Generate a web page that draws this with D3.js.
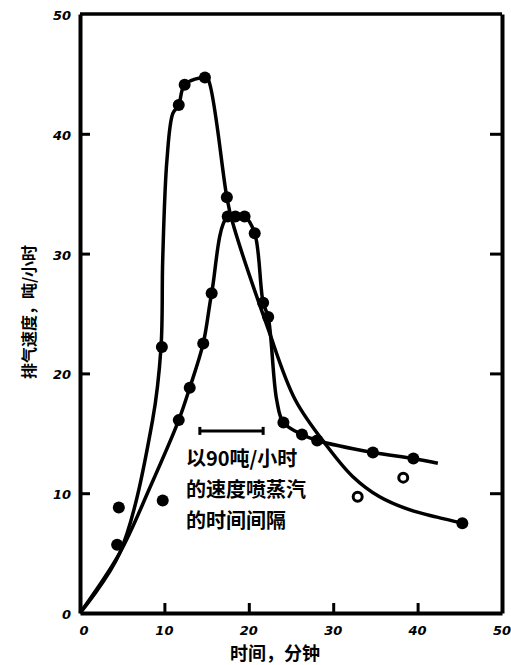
<!DOCTYPE html>
<html>
<head>
<meta charset="utf-8">
<script src="https://cdn.jsdelivr.net/npm/d3@7"></script>
<style>
  body { margin: 0; background: #fff; }
  svg { display: block; }
</style>
</head>
<body>
<div id="chart"></div>
<script>
const peakLine = [
    [0, 0], [4.7, 5.0], [8.6, 16.1], [9.6, 22.2], [9.8, 29.5], [10.3, 37.8],
    [11.0, 41.7], [11.7, 42.4], [12.4, 44.1], [14.8, 44.7], [15.2, 44.5],
    [17.4, 34.7], [18.0, 32.8], [22.2, 23.9], [25.5, 17.8], [29.3, 13.9],
    [32.3, 11.4], [35.5, 9.7], [39.1, 8.6], [42.3, 8.0], [45.3, 7.5]
];
const peakDots = [[4.4, 5.7], [9.7, 22.2], [11.7, 42.4], [12.4, 44.1], [14.8, 44.7], [17.4, 34.7], [45.3, 7.5]];
const peakOpen = [[32.9, 9.7], [38.3, 11.3]];
const strayDots = [[4.6, 8.8], [9.8, 9.4]];

// broad run
const broadLine = [
    [0, 0], [4.7, 5.0], [8.3, 10.5], [11.7, 16.1], [13.0, 18.8], [14.6, 22.5],
    [15.6, 26.7], [17.5, 33.1], [19.5, 33.1], [20.7, 31.7], [21.7, 25.9],
    [22.3, 24.7], [23.3, 17.8], [24.1, 15.9], [26.3, 14.9], [28.1, 14.4],
    [34.7, 13.4], [39.5, 12.9], [42.4, 12.5]
];
const broadDots = [
    [11.7, 16.1], [13.0, 18.8], [14.6, 22.5], [15.6, 26.7], [17.5, 33.1], [18.4, 33.1],
    [19.5, 33.1], [20.7, 31.7], [21.7, 25.9], [22.3, 24.7], [24.1, 15.9], [26.3, 14.9],
    [28.1, 14.4], [34.7, 13.4], [39.5, 12.9]
];

// steam blowing interval (90 t/h)
const steamSpan = [14.2, 21.7];
const steamLevel = 15.2;
const noteLines = ['以90吨/小时', '的速度喷蒸汽', '的时间间隔'];

const xTicks = [0, 10, 20, 30, 40, 50];
const yTicks = [0, 10, 20, 30, 40, 50];

const W = 511, H = 665;
const svg = d3.select('#chart').append('svg').attr('width', W).attr('height', H);

const x = d3.scaleLinear().domain([0, 50]).range([80, 502]);
const y = d3.scaleLinear().domain([0, 50]).range([613, 14]);

// frame top
svg.append('line').attr('x1', x(0)).attr('x2', x(50)).attr('y1', y(50)).attr('y2', y(50))
    .attr('stroke', '#000').attr('stroke-width', 3.5);

const axisStyle = g => {
    g.select('.domain').attr('stroke', '#000').attr('stroke-width', 4);
    g.selectAll('.tick line').attr('stroke', '#000').attr('stroke-width', 3);
};

svg.append('g').attr('transform', `translate(0,${y(0)})`)
    .call(d3.axisBottom(x).tickValues(xTicks.slice(1, -1)).tickSize(-10).tickSizeOuter(0).tickFormat(''))
    .call(axisStyle);
svg.append('g').attr('transform', `translate(${x(0)},0)`)
    .call(d3.axisLeft(y).tickValues(yTicks.slice(1, -1)).tickSize(-10).tickSizeOuter(0).tickFormat(''))
    .call(axisStyle);
svg.append('g').attr('transform', `translate(${x(50)},0)`)
    .call(d3.axisRight(y).tickValues(yTicks.slice(1, -1)).tickSize(-12).tickSizeOuter(0).tickFormat(''))
    .call(axisStyle);

// tick labels
svg.append('g').selectAll('text').data(xTicks).join('text')
    .attr('x', d => x(d) + (d === 0 ? 4 : 0)).attr('y', y(0) + 22)
    .attr('text-anchor', 'middle')
    .style('font-family', '"DejaVu Sans", sans-serif').style('font-weight', 'bold').style('font-style', 'italic')
    .style('font-size', '13px')
    .text(d => d);
svg.append('g').selectAll('text').data(yTicks).join('text')
    .attr('x', x(0) - 9).attr('y', d => y(d) + 6)
    .attr('text-anchor', 'end')
    .style('font-family', '"DejaVu Sans", sans-serif').style('font-weight', 'bold').style('font-style', 'italic')
    .style('font-size', '13px')
    .text(d => d);

// axis titles
svg.append('text').attr('x', 275).attr('y', 660).attr('text-anchor', 'middle')
    .style('font-family', '"Noto Sans CJK SC", sans-serif').style('font-weight', 'bold').style('font-size', '18px')
    .text('时间，分钟');
svg.append('text').attr('transform', 'translate(35,312) rotate(-90)').attr('text-anchor', 'middle')
    .style('font-family', '"Noto Sans CJK SC", sans-serif').style('font-weight', 'bold').style('font-size', '16px')
    .text('排气速度，吨/小时');

// curves
const line = d3.line().x(d => x(d[0])).y(d => y(d[1])).curve(d3.curveCatmullRom.alpha(0.5));
[peakLine, broadLine].forEach(pts => {
    svg.append('path').datum(pts)
        .attr('fill', 'none').attr('stroke', '#000').attr('stroke-width', 3.5)
        .attr('stroke-linejoin', 'round').attr('d', line);
});

// markers
svg.append('g').selectAll('circle').data(peakDots.concat(broadDots, strayDots)).join('circle')
    .attr('cx', d => x(d[0])).attr('cy', d => y(d[1])).attr('r', 6).attr('fill', '#000');
svg.append('g').selectAll('circle').data(peakOpen).join('circle')
    .attr('cx', d => x(d[0])).attr('cy', d => y(d[1])).attr('r', 4.5)
    .attr('fill', '#fff').attr('stroke', '#000').attr('stroke-width', 3);

// steam interval bar with end caps
const bar = svg.append('g').attr('stroke', '#000').attr('stroke-width', 3);
bar.append('line').attr('x1', x(steamSpan[0])).attr('x2', x(steamSpan[1]))
    .attr('y1', y(steamLevel)).attr('y2', y(steamLevel));
steamSpan.forEach(v => {
    bar.append('line').attr('x1', x(v)).attr('x2', x(v))
        .attr('y1', y(steamLevel) - 4).attr('y2', y(steamLevel) + 4);
});

svg.append('g').selectAll('text').data(noteLines).join('text')
    .attr('x', 186).attr('y', (d, i) => 466 + i * 31)
    .style('font-family', '"Noto Sans CJK SC", sans-serif').style('font-weight', 'bold').style('font-size', '20px')
    .text(d => d);
</script>
</body>
</html>
